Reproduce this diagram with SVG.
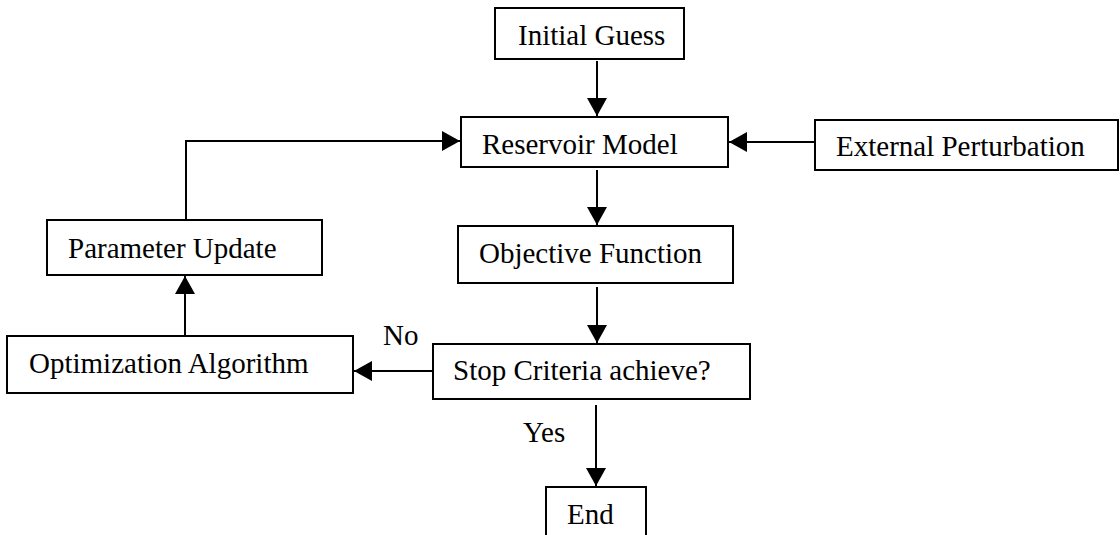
<svg xmlns="http://www.w3.org/2000/svg" width="1120" height="535" viewBox="0 0 1120 535">
<style>
.box{fill:#fff;stroke:#000;stroke-width:2}
.t{font-family:"Liberation Serif","Times New Roman",serif;font-size:29px;fill:#000}
.c{fill:none;stroke:#000;stroke-width:2}
</style>
<defs>
<marker id="ah" markerUnits="userSpaceOnUse" markerWidth="20" markerHeight="22" refX="18" refY="10" orient="auto">
<path d="M0,0 L18,10 L0,20 Z" fill="#000"/>
</marker>
</defs>
<rect width="1120" height="535" fill="#fff"/>
<g id="connectors">
<path class="c" d="M597,61 V116" marker-end="url(#ah)"/>
<path class="c" d="M815,142 H729" marker-end="url(#ah)"/>
<path class="c" d="M186,219 V141 H460" marker-end="url(#ah)"/>
<path class="c" d="M597,170 V225" marker-end="url(#ah)"/>
<path class="c" d="M597,287 V343" marker-end="url(#ah)"/>
<path class="c" d="M432,371 H354" marker-end="url(#ah)"/>
<path class="c" d="M185,335 V276" marker-end="url(#ah)"/>
<path class="c" d="M596,405 V486" marker-end="url(#ah)"/>
</g>
<g id="initial-guess">
<rect class="box" x="495" y="8" width="189" height="51"/>
<text class="t" x="518" y="45">Initial Guess</text>
</g>
<g id="reservoir-model">
<rect class="box" x="461" y="117" width="267" height="50"/>
<text class="t" x="482" y="154">Reservoir Model</text>
</g>
<g id="external-perturbation">
<rect class="box" x="815" y="120" width="303" height="50"/>
<text class="t" x="836" y="156">External Perturbation</text>
</g>
<g id="parameter-update">
<rect class="box" x="47" y="220" width="275" height="55"/>
<text class="t" x="68" y="258">Parameter Update</text>
</g>
<g id="objective-function">
<rect class="box" x="458" y="226" width="275" height="57"/>
<text class="t" x="479" y="263">Objective Function</text>
</g>
<g id="optimization-algorithm">
<rect class="box" x="7" y="336" width="346" height="57"/>
<text class="t" x="29" y="373">Optimization Algorithm</text>
</g>
<g id="stop-criteria">
<rect class="box" x="433" y="344" width="317" height="55"/>
<text class="t" x="453" y="380">Stop Criteria achieve?</text>
</g>
<g id="end">
<rect class="box" x="546" y="487" width="100" height="60"/>
<text class="t" x="567" y="524">End</text>
</g>
<text class="t" x="383" y="345">No</text>
<text class="t" x="523" y="442">Yes</text>
</svg>
